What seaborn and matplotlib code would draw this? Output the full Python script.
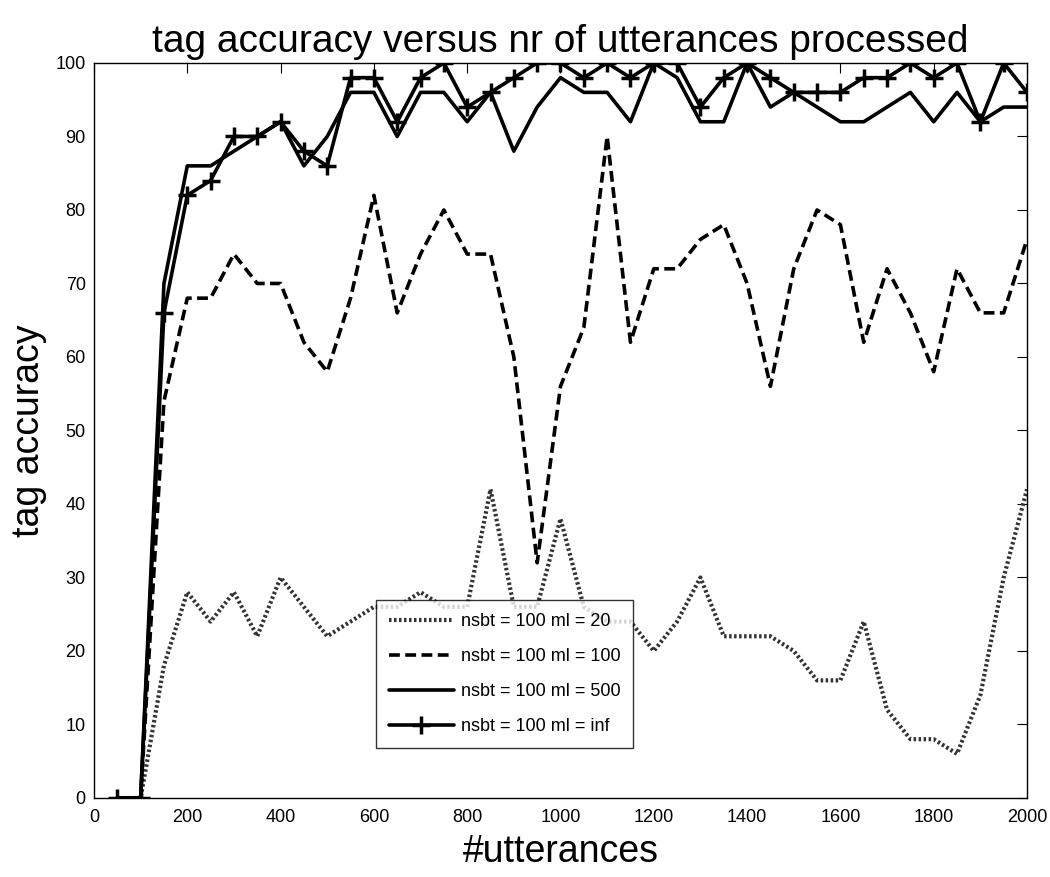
import numpy as np
import pandas as pd
import seaborn as sns
import matplotlib.pyplot as plt

# number of utterances processed (x values)
utterances = list(range(50, 2001, 50))

# tag accuracy per setting
acc_ml20 = [0, 0, 18, 28, 24, 28, 22, 30, 26, 22,
            24, 26, 26, 28, 26, 26, 42, 26, 26, 38,
            26, 24, 24, 20, 24, 30, 22, 22, 22, 20,
            16, 16, 24, 12, 8, 8, 6, 14, 30, 42]
acc_ml100 = [0, 0, 54, 68, 68, 74, 70, 70, 62, 58,
             68, 82, 66, 74, 80, 74, 74, 60, 32, 56,
             64, 90, 62, 72, 72, 76, 78, 70, 56, 72,
             80, 78, 62, 72, 66, 58, 72, 66, 66, 76]
acc_ml500 = [0, 0, 70, 86, 86, 88, 90, 92, 86, 90,
             96, 96, 90, 96, 96, 92, 96, 88, 94, 98,
             96, 96, 92, 100, 98, 92, 92, 100, 94, 96,
             94, 92, 92, 94, 96, 92, 96, 92, 94, 94]
acc_mlinf = [0, 0, 66, 82, 84, 90, 90, 92, 88, 86,
             98, 98, 92, 98, 100, 94, 96, 98, 100, 100,
             98, 100, 98, 100, 100, 94, 98, 100, 98, 96,
             96, 96, 98, 98, 100, 98, 100, 92, 100, 96]

labels = ["nsbt = 100 ml = 20", "nsbt = 100 ml = 100",
          "nsbt = 100 ml = 500", "nsbt = 100 ml = inf"]

sns.set_style("white")
plt.rcParams["font.family"] = ["Liberation Sans", "DejaVu Sans"]
plt.rcParams["text.color"] = "black"
plt.rcParams["axes.labelcolor"] = "black"
plt.rcParams["xtick.color"] = "black"
plt.rcParams["ytick.color"] = "black"

fig = plt.figure(figsize=(10.5, 8.77), dpi=100)
ax = fig.add_axes([0.0895, 0.0901, 0.8886, 0.8381])

styles = [
    dict(linestyle=(0, (0.6, 0.6)), linewidth=3.0, color="#333333"),
    dict(linestyle=(0, (3, 1.5)), linewidth=2.6, color="black"),
    dict(linestyle="-", linewidth=2.6, color="black"),
    dict(linestyle="-", linewidth=2.6, color="black", marker="+",
         markersize=13, markeredgewidth=2.5, markeredgecolor="black"),
]
series = [acc_ml20, acc_ml100, acc_ml500, acc_mlinf]

for vals, lab, st in zip(series, labels, styles):
    sns.lineplot(x=utterances, y=vals, ax=ax, label=lab, **st)

ax.set_xlim(0, 2000)
ax.set_ylim(0, 100)
ax.set_xticks(range(0, 2001, 200))
ax.set_yticks(range(0, 101, 10))
ax.tick_params(direction="in", top=True, right=True, length=7,
               labelsize=13, width=0.8)
ax.tick_params(axis="x", pad=8)
ax.tick_params(axis="y", pad=6)
for sp in ax.spines.values():
    sp.set_color("black")
    sp.set_linewidth(1.0)

ax.set_title("tag accuracy versus nr of utterances processed",
             fontsize=28, pad=8)
ax.set_xlabel("#utterances", fontsize=27, labelpad=6)
ax.set_ylabel("tag accuracy", fontsize=27, labelpad=6)

leg = ax.legend(loc="lower left", bbox_to_anchor=(0.2926, 0.0558),
                fontsize=13, frameon=True, fancybox=False,
                edgecolor="black", handlelength=3.6, borderpad=0.7,
                labelspacing=1.0, handletextpad=0.4)
leg.get_frame().set_linewidth(1.0)

fig.savefig("out.png", dpi=100)
